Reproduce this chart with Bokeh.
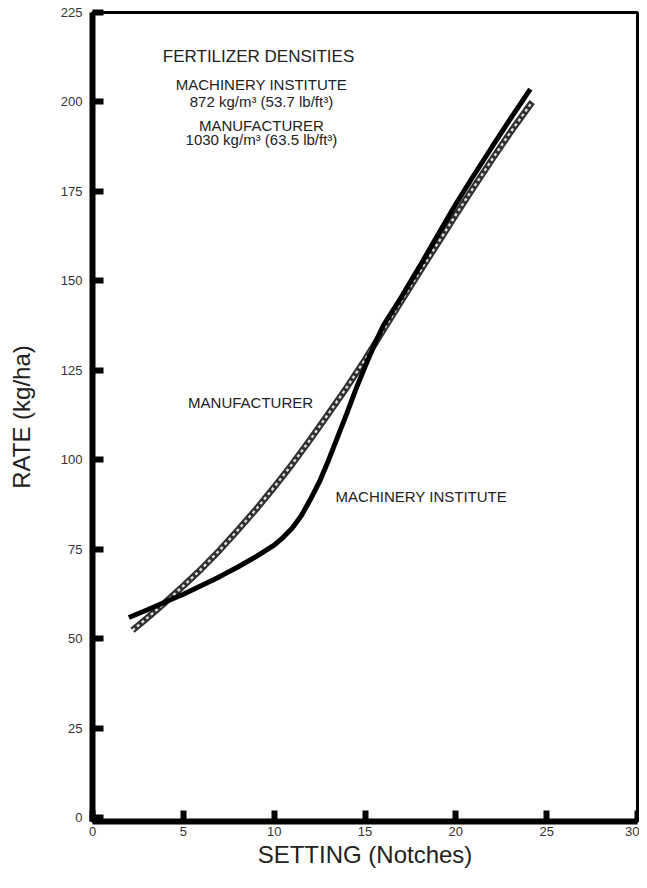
from bokeh.plotting import figure
from bokeh.models import Range1d, FixedTicker, Label
from bokeh.embed import file_html
from bokeh.resources import INLINE

# ---- data ----
x_ticks = [0, 5, 10, 15, 20, 25, 30]
y_ticks = [0, 25, 50, 75, 100, 125, 150, 175, 200, 225]

# Machinery Institute (solid curve)
mi_setting = [2.0, 3.0, 4.0, 5.0, 6.0, 7.0, 8.0, 9.0, 10.0, 10.5, 11.0, 11.5, 12.0,
              12.5, 13.0, 13.5, 14.0, 14.5, 15.0, 15.5, 16.0, 17.0, 18.0, 19.0,
              20.0, 21.0, 22.0, 23.0, 24.1]
mi_rate = [56.0, 58.1, 60.3, 62.5, 64.9, 67.4, 70.1, 73.0, 76.2, 78.4, 81.0, 84.5, 89.0,
           94.0, 100.0, 106.5, 113.0, 119.8, 126.0, 132.0, 137.5, 145.5, 154.0, 162.8,
           171.5, 179.6, 187.5, 195.3, 203.6]

# Manufacturer (dashed curve)
mf_setting = [2.2, 3.0, 4.0, 5.0, 6.0, 7.0, 8.0, 9.0, 10.0, 11.0, 12.0, 13.0, 14.0,
              15.0, 16.0, 17.0, 18.0, 19.0, 20.0, 21.0, 22.0, 23.0, 24.2]
mf_rate = [52.4, 55.8, 60.2, 64.8, 69.6, 74.8, 80.4, 86.2, 92.4, 98.9, 105.8, 113.0, 120.3,
           128.0, 136.2, 144.4, 152.5, 160.5, 168.5, 176.3, 184.0, 191.5, 200.0]

FONT = "Liberation Sans"
TXT = "#222222"

p = figure(width=639, height=872, output_backend="svg", toolbar_location=None,
           x_range=Range1d(0, 30), y_range=Range1d(-1, 225),
           min_border_left=92, min_border_right=2, min_border_top=12, min_border_bottom=51,
           background_fill_color="white", border_fill_color="white")

p.xgrid.visible = False
p.ygrid.visible = False
p.outline_line_color = "black"
p.outline_line_width = 3

for ax, ticks in ((p.xaxis, x_ticks), (p.yaxis, y_ticks)):
    ax.ticker = FixedTicker(ticks=ticks)
    ax.axis_line_color = "black"
    ax.axis_line_width = 6
    ax.major_tick_in = 11
    ax.major_tick_out = 0
    ax.major_tick_line_width = 6
    ax.major_tick_line_color = "black"
    ax.minor_tick_line_color = None
    ax.major_label_text_font = FONT
    ax.major_label_text_font_size = "13px"
    ax.major_label_text_color = "#333333"
    ax.axis_label_text_font = FONT
    ax.axis_label_text_font_size = "24px"
    ax.axis_label_text_font_style = "normal"
    ax.axis_label_text_color = TXT

p.xaxis.axis_label = "SETTING (Notches)"
p.yaxis.axis_label = "RATE (kg/ha)"
p.xaxis.major_label_standoff = 5
p.xaxis.axis_label_standoff = 2
p.yaxis.major_label_standoff = 10
p.yaxis.axis_label_standoff = 23

# Manufacturer: chain-like dashed line (dark band with light dashes)
p.line(mf_setting, mf_rate, line_width=6.5, line_color="#303030")
p.line(mf_setting, mf_rate, line_width=2.4, line_color="#dddddd", line_dash="3 3")
# Machinery Institute: solid thick line
p.line(mi_setting, mi_rate, line_width=5, line_color="black")

def add_label(x, y, text, size):
    p.add_layout(Label(x=x, y=y, text=text, text_align="center", text_baseline="middle",
                       text_font=FONT, text_font_size=size, text_color=TXT))

add_label(9.14, 212.7, "FERTILIZER DENSITIES", "17px")
add_label(9.3, 204.8, "MACHINERY INSTITUTE", "15px")
add_label(9.3, 200.0, "872 kg/m\u00b3 (53.7 lb/ft\u00b3)", "15px")
add_label(9.3, 193.4, "MANUFACTURER", "15px")
add_label(9.3, 189.6, "1030 kg/m\u00b3 (63.5 lb/ft\u00b3)", "15px")
add_label(8.7, 116.0, "MANUFACTURER", "15px")
add_label(18.1, 89.8, "MACHINERY INSTITUTE", "15px")

open("out.html", "w").write(file_html(p, INLINE))
